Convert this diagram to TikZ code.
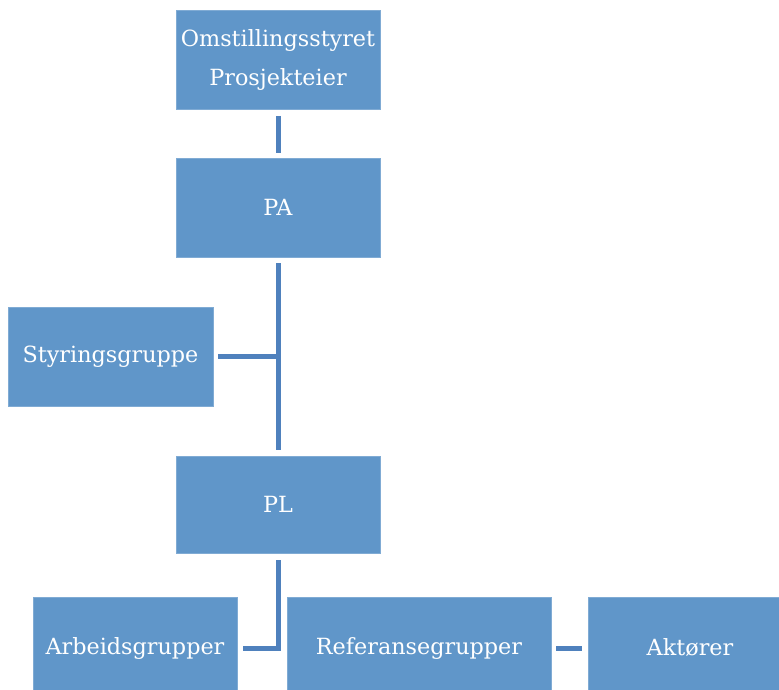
\documentclass[tikz,border=0pt]{standalone}
\usepackage{fontspec}
\setmainfont{DejaVu Serif}
\usepackage{tikz}
\definecolor{boxblue}{RGB}{96,150,201}
\definecolor{lineblue}{RGB}{79,129,189}
\begin{document}
\begin{tikzpicture}[x=1pt,y=1pt,yscale=-1,xscale=1,
  orgbox/.style={rectangle,fill=boxblue,draw=boxblue!80!white,line width=0.6pt,text=white,
    minimum width=204pt,minimum height=99pt,inner sep=0pt,align=center,
    font=\fontsize{22.3}{39}\selectfont},
  link/.style={draw=lineblue,line width=5pt}]
\useasboundingbox (0,0) rectangle (779,690);

%Boxes
\node[orgbox] (eier) at (278,60) {Omstillingsstyret\\Prosjekteier};
\node[orgbox] (pa) at (278,207.5) {PA};
\node[orgbox,minimum width=205pt] (styr) at (110.5,356.5) {Styringsgruppe};
\node[orgbox,minimum height=97pt] (pl) at (278,504.5) {PL};
\node[orgbox,minimum height=102pt] (arb) at (135,648) {Arbeidsgrupper};
\node[orgbox,minimum width=264pt,minimum height=102pt] (ref) at (419,648) {Referansegrupper};
\node[orgbox,minimum height=102pt] (akt) at (690,648) {Aktører};

%Connectors
\draw[link,shorten <=6pt,shorten >=5pt] (eier) -- (pa);
\draw[link,shorten <=6pt,shorten >=6pt] (pa) -- (pl);
\draw[link,shorten <=5pt] (styr.east) -- (styr.east -| pa.south);
\draw[link,shorten <=7pt,shorten >=6pt] (pl.south) |- (arb.east);
\draw[link,shorten <=5pt,shorten >=6pt] (ref.east) -- (akt.west);

\end{tikzpicture}
\end{document}
